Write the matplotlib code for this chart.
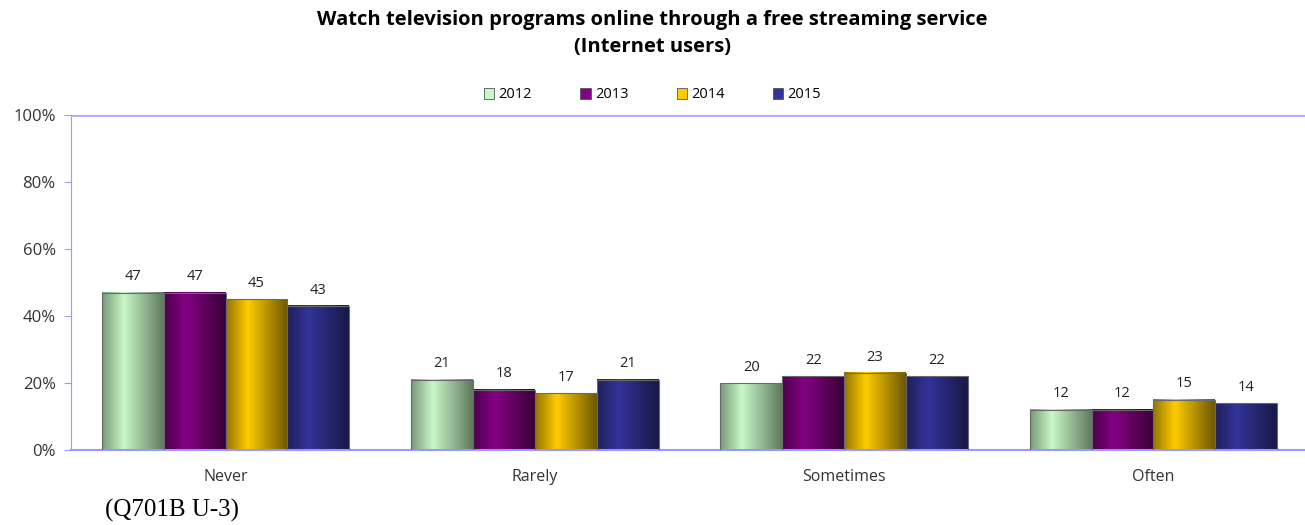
import numpy as np
import matplotlib.pyplot as plt
from matplotlib.colors import LinearSegmentedColormap
from matplotlib.patches import Patch

categories = ['Never', 'Rarely', 'Sometimes', 'Often']
years = ['2012', '2013', '2014', '2015']
v2012 = [47, 21, 20, 12]
v2013 = [47, 18, 22, 12]
v2014 = [45, 17, 23, 15]
v2015 = [43, 21, 22, 14]
series = [v2012, v2013, v2014, v2015]

# (dark edge, light centre) for the cylinder-like shading
shades = [('#5f7a5f', '#c8f8c8'),
          ('#3a0038', '#840084'),
          ('#6e5800', '#ffcc00'),
          ('#181848', '#333399')]

plt.rcParams['font.family'] = ['Open Sans', 'DejaVu Sans']

H = 525
fig = plt.figure(figsize=(13.05, 5.25), dpi=100)
ax = fig.add_axes([71 / 1305, 75 / H, 1237 / 1305, 335 / H])

x = np.arange(len(categories))
w = 0.2
grad = np.linspace(0, 1, 64)
# light on the left-centre, dark at both edges
prof = np.interp(grad, [0, 0.35, 1], [0.25, 1.0, 0.0])

for i, (vals, (dark, light)) in enumerate(zip(series, shades)):
    cmap = LinearSegmentedColormap.from_list('c%d' % i, [dark, light])
    pos = x - 1.5 * w + i * w
    for xp, v in zip(pos, vals):
        x0, x1 = xp - w / 2, xp + w / 2
        ax.imshow(prof[np.newaxis, :], cmap=cmap, aspect='auto',
                  extent=(x0, x1, 0, v), vmin=0, vmax=1, zorder=2,
                  interpolation='bilinear')
        ax.add_patch(plt.Rectangle((x0, 0), w, v, fill=False,
                                   edgecolor='#6a6a6a', lw=0.8, zorder=3))
        ax.text(xp, v + 2.5, str(v), ha='center', va='bottom',
                fontsize=10.5, color='#222222')

ax.set_xlim(-0.5, 3.5)
ax.set_ylim(0, 100)
ax.set_yticks(range(0, 101, 20))
ax.set_yticklabels(['%d%%' % t for t in range(0, 101, 20)], fontsize=12,
                   color='#333333')
ax.set_xticks(x)
ax.set_xticklabels(categories, fontsize=11.5, color='#333333')
ax.tick_params(axis='x', length=0, pad=14)
ax.tick_params(axis='y', length=5, color='#9999ff', direction='out', pad=6)
ax.axhline(100, color='#aaaaff', lw=2, zorder=1)

for s in ['top', 'right']:
    ax.spines[s].set_visible(False)
ax.spines['left'].set_color('#9999ff')
ax.spines['bottom'].set_color('#9999ff')
ax.spines['bottom'].set_linewidth(1.5)

fig.text(0.5, 1 - 20 / H, 'Watch television programs online through a free streaming service',
         ha='center', va='center', fontsize=14.5, fontweight='bold')
fig.text(0.5, 1 - 47 / H, '(Internet users)', ha='center', va='center',
         fontsize=14.5, fontweight='bold')

handles = [Patch(facecolor=l, edgecolor='#555555', lw=0.6) for d, l in shades]
fig.legend(handles, years, loc='center', bbox_to_anchor=(0.5, 1 - 95 / H),
           ncol=4, frameon=False, fontsize=10.5, handlelength=0.7, handleheight=0.7,
           handletextpad=0.3, columnspacing=3.3)

fig.text(105 / 1305, 1 - 510 / H, '(Q701B U-3)', ha='left', va='center',
         fontsize=18, family='Liberation Serif')

fig.savefig('out.png', dpi=100)
